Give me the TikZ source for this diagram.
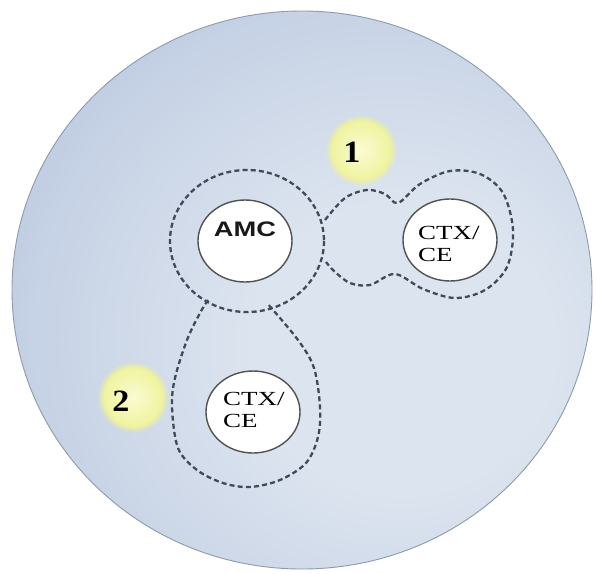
\documentclass[tikz,border=0pt]{standalone}
\usepackage{fontspec}
\setmainfont{Liberation Serif}
\newfontfamily\amcfont{Liberation Sans}
\usetikzlibrary{fadings,shapes.geometric}
\definecolor{bgin}{HTML}{DCE4EF}
\definecolor{bgmid}{HTML}{C6D2E5}
\definecolor{bgout}{HTML}{A0B5D3}
\definecolor{dashcol}{HTML}{3F4B5D}
\definecolor{spotin}{HTML}{FAFBD2}
\definecolor{spotout}{HTML}{EDF293}
\definecolor{rimcol}{HTML}{8E9BAB}
\pgfdeclareradialshading{bgshade}{\pgfpoint{10bp}{-6bp}}{color(0bp)=(bgin); color(13bp)=(bgin); color(30bp)=(bgmid); color(50bp)=(bgout); color(100bp)=(bgout)}
\tikzset{
  zone/.style={draw=dashcol, line width=2.3pt, dash pattern=on 5pt off 3.2pt},
  cell/.style={ellipse, draw=black!68, line width=1.4pt, fill=white, inner sep=0pt, minimum width=94pt, minimum height=82pt},
  celltext/.style={font=\fontsize{20}{22}\selectfont, align=left, inner sep=0pt, text=black},
  amctext/.style={font=\amcfont\bfseries\fontsize{21}{23}\selectfont, inner sep=0pt, text=black!90},
  spot/.style={inner color=spotin, outer color=spotout, path fading=circle with fuzzy edge 20 percent},
  num/.style={font=\bfseries\fontsize{31}{33}\selectfont, inner sep=0pt}
}
\begin{document}
\begin{tikzpicture}[x=1pt,y=-1pt]
\useasboundingbox (0,0) rectangle (597,573);
\fill[white] (0,0) rectangle (597,573);
% big disc
\shade[shading=bgshade] (302,290) ellipse [x radius=290, y radius=279];
\draw[rimcol, line width=0.9pt] (302,290) ellipse [x radius=290, y radius=279];
% glowing number spots
\shade[spot] (361,150) circle [radius=36];
\shade[spot] (133,397) circle [radius=36];
\node[num] (n1) at (352,152) {\scalebox{1.1}[1]{1}};
\node[num] (n2) at (121,401) {\scalebox{1.1}[1]{2}};
% dashed zones
\draw[zone] (247,241) ellipse [x radius=77, y radius=71];
\draw[zone] plot[smooth, tension=0.55] coordinates {(325,220) (345,198) (367,190) (385,194) (398,203) (420,184) (450,171) (480,174) (503,193) (513,230) (507,267) (485,290) (455,298) (423,289) (395,274) (370,285) (350,283) (334,271) (326,262)};
\draw[zone] plot[smooth, tension=0.55] coordinates {(208,300) (200,313) (187,340) (175,378) (172,407) (178,448) (197,470) (223,483) (250,487) (280,480) (306,463) (318,437) (320,407) (314,368) (298,340) (267,303)};
% cells
\node[cell] (amc) at (245,241) {};
\node[amctext] (amct) at (245,229) {\scalebox{1.3}[1]{AMC}};
\node[cell] (ctxa) at (450,240) {};
\node[celltext, anchor=west] (ctxat) at (418,244) {\scalebox{1.35}[1]{CTX/}\\\scalebox{1.35}[1]{CE}};
\node[cell] (ctxb) at (253,412) {};
\node[celltext, anchor=west] (ctxbt) at (223,410) {\scalebox{1.35}[1]{CTX/}\\\scalebox{1.35}[1]{CE}};
\end{tikzpicture}
\end{document}
